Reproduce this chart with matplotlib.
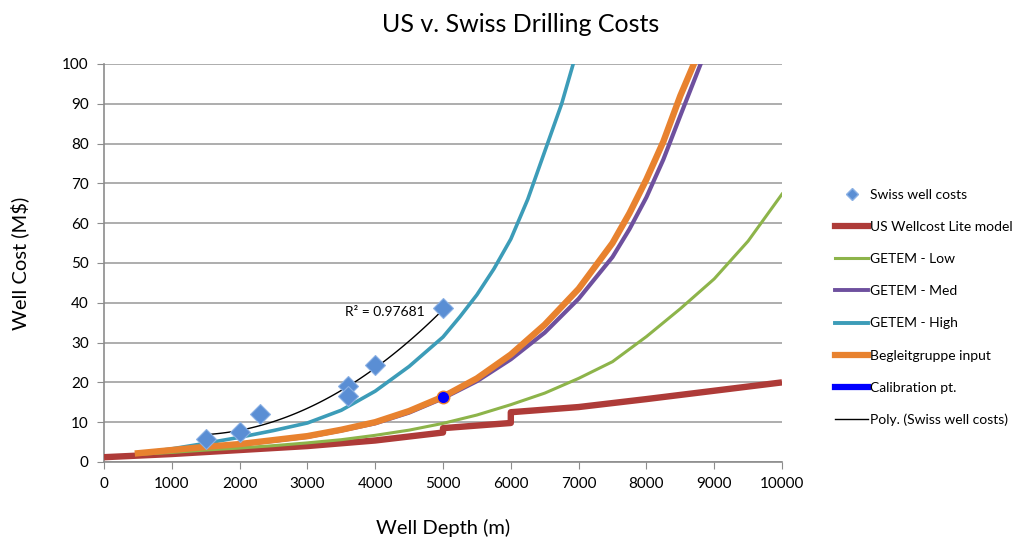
import numpy as np
import matplotlib
matplotlib.use('Agg')
import matplotlib.pyplot as plt
from matplotlib.lines import Line2D

# Swiss well costs (scatter)
swiss_depth = [1500, 2000, 2300, 3600, 3600, 4000, 5000]
swiss_cost = [5.8, 7.5, 12.1, 19.0, 16.5, 24.3, 38.7]

# US Wellcost Lite model (steps at 5000 and 6000 m)
us_depth = [0, 1000, 2000, 3000, 4000, 5000, 5000, 6000, 6000, 7000, 8000, 9000, 10000]
us_cost = [1.2, 2.0, 3.0, 4.0, 5.4, 7.4, 8.5, 9.8, 12.5, 13.8, 15.8, 17.9, 20.0]

getem_depth = [500, 1000, 1500, 2000, 2500, 3000, 3500, 4000, 4500, 5000,
               5500, 6000, 6500, 7000, 7500, 8000, 8500, 9000, 9500, 10000]
getem_low = [1.9, 2.4, 3.0, 3.5, 4.1, 4.8, 5.6, 6.7, 8.0, 9.7,
             11.8, 14.4, 17.3, 21.0, 25.2, 31.5, 38.5, 46.0, 55.5, 67.3]

med_depth = [500, 1000, 1500, 2000, 2500, 3000, 3500, 4000, 4500, 5000,
             5500, 6000, 6500, 7000, 7500, 7750, 8000, 8250, 8500, 8800]
getem_med = [2.1, 2.9, 3.7, 4.4, 5.3, 6.3, 7.9, 9.7, 12.4, 16.0,
             20.3, 25.8, 32.5, 41.0, 51.5, 58.5, 66.5, 76.0, 87.0, 100.0]

high_depth = [500, 1000, 1500, 2000, 2500, 3000, 3500, 4000, 4500, 5000,
              5250, 5500, 5750, 6000, 6250, 6500, 6750, 6920]
getem_high = [2.2, 3.3, 4.7, 6.2, 7.9, 9.8, 13.0, 17.8, 24.0, 31.4,
              36.5, 42.0, 48.5, 56.0, 66.0, 78.0, 90.0, 100.0]

beg_depth = [500, 1000, 1500, 2000, 2500, 3000, 3500, 4000, 4500, 5000,
             5500, 6000, 6500, 7000, 7500, 7750, 8000, 8250, 8500, 8700]
beg_cost = [2.2, 3.0, 3.8, 4.5, 5.5, 6.5, 8.1, 10.0, 12.8, 16.4,
            21.0, 27.0, 34.5, 43.5, 55.0, 62.5, 71.0, 80.5, 92.0, 100.0]

calib_depth = [5000]
calib_cost = [16.4]

c_red = '#AE3B38'
c_green = '#8DB44A'
c_purple = '#6E509E'
c_teal = '#3C9CB8'
c_orange = '#E8822F'
c_diamond = '#5A8ED4'

plt.rcParams['font.family'] = ['Lato', 'DejaVu Sans']

fig = plt.figure(figsize=(10.14, 5.39), dpi=100)
ax = fig.add_axes([0.1026, 0.1429, 0.6686, 0.7384])

ax.plot(us_depth, us_cost, color=c_red, lw=4.6, solid_capstyle='butt', zorder=3)
ax.plot(getem_depth, getem_low, color=c_green, lw=2.2, zorder=3)
ax.plot(med_depth, getem_med, color=c_purple, lw=3.0, zorder=3)
ax.plot(high_depth, getem_high, color=c_teal, lw=2.6, zorder=4)
ax.plot(beg_depth, beg_cost, color=c_orange, lw=4.6, zorder=4)

# polynomial trendline through the Swiss points
coef = np.polyfit(swiss_depth, swiss_cost, 2)
xs = np.linspace(min(swiss_depth), max(swiss_depth), 100)
ax.plot(xs, np.polyval(coef, xs), color='black', lw=1.0, zorder=5)
ax.text(4730, 37.6, 'R² = 0.97681', ha='right', va='center', fontsize=10, zorder=6)

ax.plot(swiss_depth, swiss_cost, ls='none', marker='D', ms=10,
        mfc=c_diamond, mec='#8AB0E4', mew=0.8, zorder=6)
ax.plot(calib_depth, calib_cost, ls='none', marker='o', ms=9,
        mfc='#0000FF', mec=c_orange, mew=1.0, zorder=7)

ax.set_xlim(0, 10000)
ax.set_ylim(0, 100)
ax.set_xticks(np.arange(0, 10001, 1000))
ax.set_yticks(np.arange(0, 101, 10))
ax.tick_params(axis='both', direction='out', length=5, color='#8C8C8C',
               labelsize=11, pad=6)
ax.grid(axis='y', color='#A0A0A0', lw=1.2)
ax.set_axisbelow(True)
for s in ['top', 'right']:
    ax.spines[s].set_visible(False)
for s in ['left', 'bottom']:
    ax.spines[s].set_color('#8C8C8C')
    ax.spines[s].set_linewidth(1.2)

ax.set_xlabel('Well Depth (m)', fontsize=14.5, labelpad=20)
ax.set_ylabel('Well Cost (M$)', fontsize=14.5, labelpad=24)
fig.text(0.513, 0.955, 'US v. Swiss Drilling Costs', ha='center', va='center', fontsize=18)

handles = [
    Line2D([], [], ls='none', marker='D', ms=6, mfc=c_diamond, mec='#8AB0E4'),
    Line2D([], [], color=c_red, lw=4.5),
    Line2D([], [], color=c_green, lw=2.2),
    Line2D([], [], color=c_purple, lw=2.8),
    Line2D([], [], color=c_teal, lw=2.8),
    Line2D([], [], color=c_orange, lw=4.5),
    Line2D([], [], color='#0000FF', lw=4.5),
    Line2D([], [], color='black', lw=1.0),
]
labels = ['Swiss well costs', 'US Wellcost Lite model', 'GETEM - Low', 'GETEM - Med',
          'GETEM - High', 'Begleitgruppe input', 'Calibration pt.', 'Poly. (Swiss well costs)']
fig.legend(handles, labels, loc='upper left', bbox_to_anchor=(0.818, 0.66),
           frameon=False, fontsize=10, labelspacing=1.45, handlelength=2.4,
           handletextpad=0.15, borderaxespad=0)

fig.savefig('out.png', dpi=100)
